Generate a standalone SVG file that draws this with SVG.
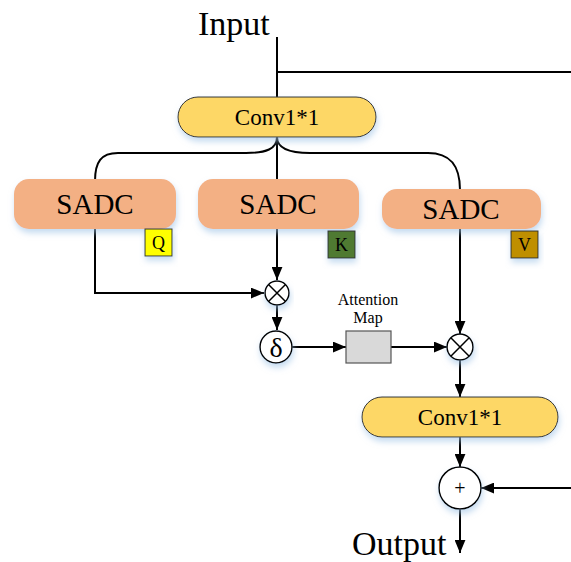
<svg xmlns="http://www.w3.org/2000/svg" width="571" height="562" viewBox="0 0 571 562">
<style>
.t{font-family:"Liberation Serif","Times New Roman",serif;fill:#000}
.ln{fill:none;stroke:#000;stroke-width:2}
.conv{fill:#FDD766;stroke:#333;stroke-width:1}
.sadc{fill:#F3B084}
.op{fill:#fff;stroke:#000;stroke-width:1.5}
</style>
<defs>
<marker id="arr" viewBox="0 0 12 10" refX="12" refY="5" markerWidth="13" markerHeight="11" markerUnits="userSpaceOnUse" orient="auto"><path d="M0,0 L12,5 L0,10 z" fill="#000"/></marker>
<filter id="sh" x="-20%" y="-20%" width="140%" height="160%"><feDropShadow dx="1" dy="4" stdDeviation="3" flood-color="#9DC3E6" flood-opacity="0.6"/></filter>
</defs>

<text class="t" x="198" y="35" font-size="34">Input</text>
<text class="t" x="352" y="555" font-size="34">Output</text>

<g id="connectors">
<path class="ln" d="M277,37 L277,97"/>
<path class="ln" d="M277,72 L571,72"/>
<path class="ln" d="M277,137 C277,149 266,153 246,153 L118,153 C101,153 95,162 95,181"/>
<path class="ln" d="M277,137 L277,180"/>
<path class="ln" d="M277,137 C277,149 290,153 310,153 L428,153 C450,153 460,165 460,190"/>
<path class="ln" d="M95,229 L95,293 L264,293" marker-end="url(#arr)"/>
<path class="ln" d="M277,229 L277,280" marker-end="url(#arr)"/>
<path class="ln" d="M277,305 L277,330" marker-end="url(#arr)"/>
<path class="ln" d="M292,347 L346,347" marker-end="url(#arr)"/>
<path class="ln" d="M391,347 L447,347" marker-end="url(#arr)"/>
<path class="ln" d="M460,229 L460,334" marker-end="url(#arr)"/>
<path class="ln" d="M460,360 L460,397" marker-end="url(#arr)"/>
<path class="ln" d="M460,437 L460,467" marker-end="url(#arr)"/>
<path class="ln" d="M571,488 L481,488" marker-end="url(#arr)"/>
<path class="ln" d="M460,509 L460,553" marker-end="url(#arr)"/>
</g>

<g id="conv1">
<rect class="conv" x="178" y="97" width="198" height="40" rx="20" filter="url(#sh)"/>
<text class="t" x="277" y="125" font-size="23" text-anchor="middle">Conv1*1</text>
</g>

<g id="sadc-q">
<rect class="sadc" x="14" y="179" width="162" height="50" rx="15" filter="url(#sh)"/>
<text class="t" x="95" y="214" font-size="29" text-anchor="middle">SADC</text>
</g>
<g id="sadc-k">
<rect class="sadc" x="198" y="179" width="161" height="50" rx="15" filter="url(#sh)"/>
<text class="t" x="278" y="214" font-size="29" text-anchor="middle">SADC</text>
</g>
<g id="sadc-v">
<rect class="sadc" x="382" y="189" width="159" height="40" rx="15" filter="url(#sh)"/>
<text class="t" x="461" y="219" font-size="29" text-anchor="middle">SADC</text>
</g>

<g id="q">
<rect x="145" y="229" width="27" height="27" fill="#FFFF00" stroke="#333" stroke-width="1" filter="url(#sh)"/>
<text class="t" x="158.5" y="249" font-size="18" text-anchor="middle">Q</text>
</g>
<g id="k">
<rect x="328" y="231" width="27" height="27" fill="#4F7A30" stroke="#333" stroke-width="1" filter="url(#sh)"/>
<text class="t" x="341.5" y="251" font-size="18" text-anchor="middle">K</text>
</g>
<g id="v">
<rect x="511" y="231" width="27" height="27" fill="#BF8F00" stroke="#333" stroke-width="1" filter="url(#sh)"/>
<text class="t" x="524.5" y="251" font-size="18" text-anchor="middle">V</text>
</g>

<g id="mul1">
<circle class="op" cx="277" cy="293" r="12" filter="url(#sh)"/>
<path d="M268.5,284.5 L285.5,301.5 M285.5,284.5 L268.5,301.5" stroke="#000" stroke-width="1.5"/>
</g>

<g id="delta">
<circle class="op" cx="276" cy="347" r="16" filter="url(#sh)"/>
<text class="t" x="276" y="357" font-size="28" text-anchor="middle">δ</text>
</g>

<g id="attention-map">
<rect x="346" y="331" width="45" height="32" fill="#D9D9D9" stroke="#555" stroke-width="1.2"/>
<text class="t" x="368" y="305" font-size="16" text-anchor="middle">Attention</text>
<text class="t" x="368" y="323" font-size="16" text-anchor="middle">Map</text>
</g>

<g id="mul2">
<circle class="op" cx="460" cy="347" r="13" filter="url(#sh)"/>
<path d="M450.8,337.8 L469.2,356.2 M469.2,337.8 L450.8,356.2" stroke="#000" stroke-width="1.5"/>
</g>

<g id="conv2">
<rect class="conv" x="362" y="397" width="196" height="40" rx="20" filter="url(#sh)"/>
<text class="t" x="460" y="425" font-size="23" text-anchor="middle">Conv1*1</text>
</g>

<g id="add">
<circle class="op" cx="460" cy="488" r="21" filter="url(#sh)"/>
<text class="t" x="460" y="495" font-size="20" text-anchor="middle">+</text>
</g>
</svg>
